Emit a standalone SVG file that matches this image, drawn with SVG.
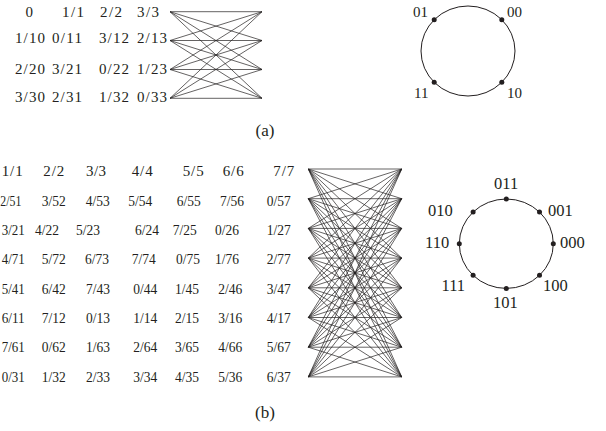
<svg xmlns="http://www.w3.org/2000/svg" width="606" height="431" viewBox="0 0 606 431">
<style>
text{font-family:"Liberation Serif","Times New Roman",serif;fill:#231f20}
.ta{font-size:15px}
.tb{font-size:15px}
.lab{font-size:15px}
.labb{font-size:16.5px}
.cap{font-size:17px;text-anchor:middle}
.e{stroke:#231f20;stroke-width:0.7;fill:none}
.ring{stroke:#231f20;stroke-width:1;fill:none}
.dot{fill:#231f20}
</style>
<rect width="606" height="431" fill="#fff"/>

<!-- (a) table -->
<g id="table-a" class="ta">
<text x="25.5" y="16.5">0</text>
<text x="62" y="16.5" textLength="22" lengthAdjust="spacing">1/1</text>
<text x="100" y="16.5" textLength="22" lengthAdjust="spacing">2/2</text>
<text x="137" y="16.5" textLength="22" lengthAdjust="spacing">3/3</text>
<text x="15" y="43" textLength="30" lengthAdjust="spacing">1/10</text>
<text x="52" y="43" textLength="30" lengthAdjust="spacing">0/11</text>
<text x="99" y="43" textLength="30" lengthAdjust="spacing">3/12</text>
<text x="137" y="43" textLength="30" lengthAdjust="spacing">2/13</text>
<text x="15" y="73.5" textLength="30" lengthAdjust="spacing">2/20</text>
<text x="52" y="73.5" textLength="30" lengthAdjust="spacing">3/21</text>
<text x="99" y="73.5" textLength="30" lengthAdjust="spacing">0/22</text>
<text x="137" y="73.5" textLength="30" lengthAdjust="spacing">1/23</text>
<text x="15" y="102" textLength="30" lengthAdjust="spacing">3/30</text>
<text x="52" y="102" textLength="30" lengthAdjust="spacing">2/31</text>
<text x="99" y="102" textLength="30" lengthAdjust="spacing">1/32</text>
<text x="137" y="102" textLength="30" lengthAdjust="spacing">0/33</text>
</g>

<!-- (a) bipartite connectors -->
<g id="connectors-a" class="e">
<line x1="170" y1="11.7" x2="262" y2="11.7"/><line x1="170" y1="11.7" x2="262" y2="40.5"/><line x1="170" y1="11.7" x2="262" y2="69.5"/><line x1="170" y1="11.7" x2="262" y2="98.3"/>
<line x1="170" y1="40.5" x2="262" y2="11.7"/><line x1="170" y1="40.5" x2="262" y2="40.5"/><line x1="170" y1="40.5" x2="262" y2="69.5"/><line x1="170" y1="40.5" x2="262" y2="98.3"/>
<line x1="170" y1="69.5" x2="262" y2="11.7"/><line x1="170" y1="69.5" x2="262" y2="40.5"/><line x1="170" y1="69.5" x2="262" y2="69.5"/><line x1="170" y1="69.5" x2="262" y2="98.3"/>
<line x1="170" y1="98.3" x2="262" y2="11.7"/><line x1="170" y1="98.3" x2="262" y2="40.5"/><line x1="170" y1="98.3" x2="262" y2="69.5"/><line x1="170" y1="98.3" x2="262" y2="98.3"/>
</g>

<!-- (a) ring -->
<g id="ring-a">
<ellipse class="ring" cx="468" cy="51" rx="47" ry="45"/>
<g id="a-01"><circle class="dot" cx="434.2" cy="19.7" r="2.5"/><text class="lab" x="413" y="17">01</text></g>
<g id="a-00"><circle class="dot" cx="501.8" cy="19.7" r="2.5"/><text class="lab" x="507" y="17">00</text></g>
<g id="a-11"><circle class="dot" cx="434.2" cy="82.3" r="2.5"/><text class="lab" x="414" y="98">11</text></g>
<g id="a-10"><circle class="dot" cx="501.8" cy="82.3" r="2.5"/><text class="lab" x="507" y="98">10</text></g>
</g>
<text class="cap" x="265" y="136">(a)</text>

<!-- (b) table -->
<g id="table-b" class="tb">
<text x="1.7" y="176.3" textLength="21" lengthAdjust="spacing">1/1</text>
<text x="43.3" y="176.3" textLength="21" lengthAdjust="spacing">2/2</text>
<text x="86" y="176.3" textLength="20" lengthAdjust="spacing">3/3</text>
<text x="131.7" y="176.3" textLength="21" lengthAdjust="spacing">4/4</text>
<text x="182.7" y="176.3" textLength="21" lengthAdjust="spacing">5/5</text>
<text x="222.7" y="176.3" textLength="21" lengthAdjust="spacing">6/6</text>
<text x="273.3" y="176.3" textLength="21" lengthAdjust="spacing">7/7</text>

<text x="0.3" y="205.65" textLength="21" lengthAdjust="spacingAndGlyphs">2/51</text>
<text x="41.7" y="205.65" textLength="24" lengthAdjust="spacingAndGlyphs">3/52</text>
<text x="85.7" y="205.65" textLength="24" lengthAdjust="spacingAndGlyphs">4/53</text>
<text x="128.3" y="205.65" textLength="24" lengthAdjust="spacingAndGlyphs">5/54</text>
<text x="176.7" y="205.65" textLength="24" lengthAdjust="spacingAndGlyphs">6/55</text>
<text x="220" y="205.65" textLength="24" lengthAdjust="spacingAndGlyphs">7/56</text>
<text x="266.7" y="205.65" textLength="24" lengthAdjust="spacingAndGlyphs">0/57</text>

<text x="1.7" y="235" textLength="23" lengthAdjust="spacingAndGlyphs">3/21</text>
<text x="35" y="235" textLength="24" lengthAdjust="spacingAndGlyphs">4/22</text>
<text x="76" y="235" textLength="24" lengthAdjust="spacingAndGlyphs">5/23</text>
<text x="135" y="235" textLength="24" lengthAdjust="spacingAndGlyphs">6/24</text>
<text x="172.7" y="235" textLength="24" lengthAdjust="spacingAndGlyphs">7/25</text>
<text x="215" y="235" textLength="24" lengthAdjust="spacingAndGlyphs">0/26</text>
<text x="266.7" y="235" textLength="24" lengthAdjust="spacingAndGlyphs">1/27</text>

<text x="1.7" y="264.35" textLength="23" lengthAdjust="spacingAndGlyphs">4/71</text>
<text x="41.7" y="264.35" textLength="24" lengthAdjust="spacingAndGlyphs">5/72</text>
<text x="85" y="264.35" textLength="24" lengthAdjust="spacingAndGlyphs">6/73</text>
<text x="131.7" y="264.35" textLength="24" lengthAdjust="spacingAndGlyphs">7/74</text>
<text x="176" y="264.35" textLength="24" lengthAdjust="spacingAndGlyphs">0/75</text>
<text x="215" y="264.35" textLength="24" lengthAdjust="spacingAndGlyphs">1/76</text>
<text x="266.7" y="264.35" textLength="24" lengthAdjust="spacingAndGlyphs">2/77</text>

<text x="1.7" y="293.7" textLength="23" lengthAdjust="spacingAndGlyphs">5/41</text>
<text x="41.7" y="293.7" textLength="24" lengthAdjust="spacingAndGlyphs">6/42</text>
<text x="86" y="293.7" textLength="24" lengthAdjust="spacingAndGlyphs">7/43</text>
<text x="133.3" y="293.7" textLength="24" lengthAdjust="spacingAndGlyphs">0/44</text>
<text x="175" y="293.7" textLength="24" lengthAdjust="spacingAndGlyphs">1/45</text>
<text x="218.3" y="293.7" textLength="24" lengthAdjust="spacingAndGlyphs">2/46</text>
<text x="266.7" y="293.7" textLength="24" lengthAdjust="spacingAndGlyphs">3/47</text>

<text x="1.7" y="323.05" textLength="23" lengthAdjust="spacingAndGlyphs">6/11</text>
<text x="41.7" y="323.05" textLength="24" lengthAdjust="spacingAndGlyphs">7/12</text>
<text x="86" y="323.05" textLength="24" lengthAdjust="spacingAndGlyphs">0/13</text>
<text x="133.3" y="323.05" textLength="24" lengthAdjust="spacingAndGlyphs">1/14</text>
<text x="175" y="323.05" textLength="24" lengthAdjust="spacingAndGlyphs">2/15</text>
<text x="218.3" y="323.05" textLength="24" lengthAdjust="spacingAndGlyphs">3/16</text>
<text x="266.7" y="323.05" textLength="24" lengthAdjust="spacingAndGlyphs">4/17</text>

<text x="1.7" y="352.4" textLength="23" lengthAdjust="spacingAndGlyphs">7/61</text>
<text x="41.7" y="352.4" textLength="24" lengthAdjust="spacingAndGlyphs">0/62</text>
<text x="86" y="352.4" textLength="24" lengthAdjust="spacingAndGlyphs">1/63</text>
<text x="133.3" y="352.4" textLength="24" lengthAdjust="spacingAndGlyphs">2/64</text>
<text x="175" y="352.4" textLength="24" lengthAdjust="spacingAndGlyphs">3/65</text>
<text x="218.3" y="352.4" textLength="24" lengthAdjust="spacingAndGlyphs">4/66</text>
<text x="266.7" y="352.4" textLength="24" lengthAdjust="spacingAndGlyphs">5/67</text>

<text x="1.7" y="381.75" textLength="23" lengthAdjust="spacingAndGlyphs">0/31</text>
<text x="41.7" y="381.75" textLength="24" lengthAdjust="spacingAndGlyphs">1/32</text>
<text x="86" y="381.75" textLength="24" lengthAdjust="spacingAndGlyphs">2/33</text>
<text x="133.3" y="381.75" textLength="24" lengthAdjust="spacingAndGlyphs">3/34</text>
<text x="175" y="381.75" textLength="24" lengthAdjust="spacingAndGlyphs">4/35</text>
<text x="218.3" y="381.75" textLength="24" lengthAdjust="spacingAndGlyphs">5/36</text>
<text x="266.7" y="381.75" textLength="24" lengthAdjust="spacingAndGlyphs">6/37</text>
</g>

<!-- (b) bipartite connectors -->
<g id="connectors-b" class="e">
<path d="M308.3 169L401.7 169M308.3 169L401.7 198.7M308.3 169L401.7 228.4M308.3 169L401.7 258.1M308.3 169L401.7 287.8M308.3 169L401.7 317.5M308.3 169L401.7 347.2M308.3 169L401.7 376.9"/>
<path d="M308.3 198.7L401.7 169M308.3 198.7L401.7 198.7M308.3 198.7L401.7 228.4M308.3 198.7L401.7 258.1M308.3 198.7L401.7 287.8M308.3 198.7L401.7 317.5M308.3 198.7L401.7 347.2M308.3 198.7L401.7 376.9"/>
<path d="M308.3 228.4L401.7 169M308.3 228.4L401.7 198.7M308.3 228.4L401.7 228.4M308.3 228.4L401.7 258.1M308.3 228.4L401.7 287.8M308.3 228.4L401.7 317.5M308.3 228.4L401.7 347.2M308.3 228.4L401.7 376.9"/>
<path d="M308.3 258.1L401.7 169M308.3 258.1L401.7 198.7M308.3 258.1L401.7 228.4M308.3 258.1L401.7 258.1M308.3 258.1L401.7 287.8M308.3 258.1L401.7 317.5M308.3 258.1L401.7 347.2M308.3 258.1L401.7 376.9"/>
<path d="M308.3 287.8L401.7 169M308.3 287.8L401.7 198.7M308.3 287.8L401.7 228.4M308.3 287.8L401.7 258.1M308.3 287.8L401.7 287.8M308.3 287.8L401.7 317.5M308.3 287.8L401.7 347.2M308.3 287.8L401.7 376.9"/>
<path d="M308.3 317.5L401.7 169M308.3 317.5L401.7 198.7M308.3 317.5L401.7 228.4M308.3 317.5L401.7 258.1M308.3 317.5L401.7 287.8M308.3 317.5L401.7 317.5M308.3 317.5L401.7 347.2M308.3 317.5L401.7 376.9"/>
<path d="M308.3 347.2L401.7 169M308.3 347.2L401.7 198.7M308.3 347.2L401.7 228.4M308.3 347.2L401.7 258.1M308.3 347.2L401.7 287.8M308.3 347.2L401.7 317.5M308.3 347.2L401.7 347.2M308.3 347.2L401.7 376.9"/>
<path d="M308.3 376.9L401.7 169M308.3 376.9L401.7 198.7M308.3 376.9L401.7 228.4M308.3 376.9L401.7 258.1M308.3 376.9L401.7 287.8M308.3 376.9L401.7 317.5M308.3 376.9L401.7 347.2M308.3 376.9L401.7 376.9"/>
</g>

<!-- (b) ring -->
<g id="ring-b">
<ellipse class="ring" cx="506.3" cy="243.7" rx="47" ry="44.7"/>
<g id="b-011"><circle class="dot" cx="506.3" cy="199" r="2.5"/><text class="labb" x="494" y="188.5">011</text></g>
<g id="b-001"><circle class="dot" cx="539.5" cy="212.1" r="2.5"/><text class="labb" x="548" y="215.7">001</text></g>
<g id="b-000"><circle class="dot" cx="553.3" cy="243.7" r="2.5"/><text class="labb" x="560" y="248">000</text></g>
<g id="b-100"><circle class="dot" cx="539.5" cy="275.3" r="2.5"/><text class="labb" x="543" y="290.7">100</text></g>
<g id="b-101"><circle class="dot" cx="506.3" cy="288.4" r="2.5"/><text class="labb" x="493" y="308">101</text></g>
<g id="b-111"><circle class="dot" cx="473.1" cy="275.3" r="2.5"/><text class="labb" x="441.5" y="290.7">111</text></g>
<g id="b-110"><circle class="dot" cx="459.3" cy="243.7" r="2.5"/><text class="labb" x="425" y="248">110</text></g>
<g id="b-010"><circle class="dot" cx="473.1" cy="212.1" r="2.5"/><text class="labb" x="428" y="215.7">010</text></g>
</g>
<text class="cap" x="265" y="418">(b)</text>
</svg>
